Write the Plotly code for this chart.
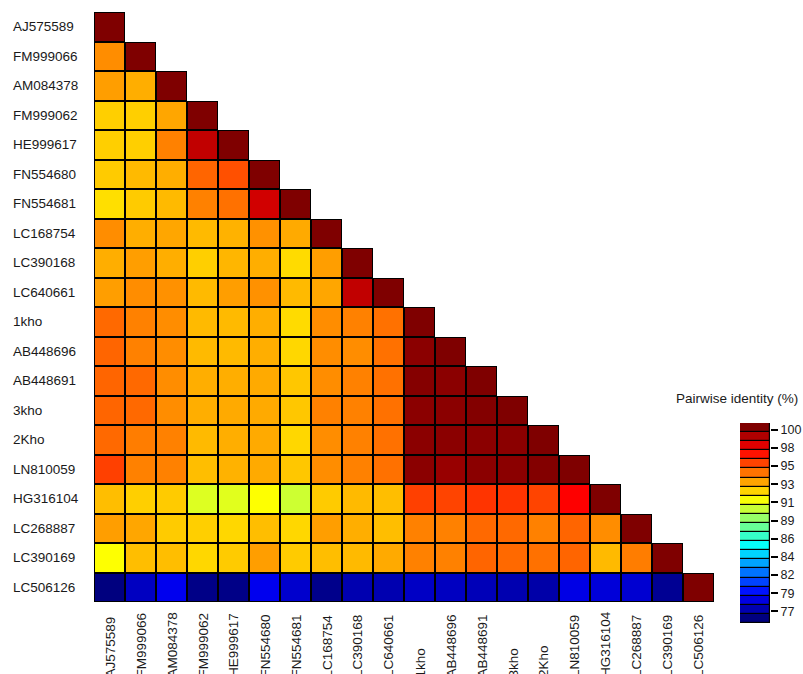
import plotly.graph_objects as go

# Sequence names, in matrix order (rows top to bottom, columns left to right)
sequences = ["AJ575589", "FM999066", "AM084378", "FM999062", "HE999617", "FN554680",
             "FN554681", "LC168754", "LC390168", "LC640661", "1kho", "AB448696",
             "AB448691", "3kho", "2Kho", "LN810059", "HG316104", "LC268887",
             "LC390169", "LC506126"]

# Pairwise identity (%) of each sequence with every earlier sequence, ending with itself
row_AJ575589 = [100]
row_FM999066 = [93.4, 100]
row_AM084378 = [93.0, 92.6, 100]
row_FM999062 = [91.8, 91.8, 92.8, 100]
row_HE999617 = [91.8, 91.8, 93.7, 98.4, 100]
row_FN554680 = [91.9, 92.3, 92.6, 94.4, 94.9, 100]
row_FN554681 = [91.4, 91.9, 92.3, 93.7, 94.1, 98.0, 100]
row_LC168754 = [93.4, 92.6, 92.8, 92.3, 92.5, 93.3, 92.7, 100]
row_LC390168 = [92.6, 93.0, 92.6, 91.8, 92.4, 92.6, 91.5, 93.0, 100]
row_LC640661 = [93.0, 93.4, 93.3, 92.3, 93.0, 93.3, 92.3, 92.8, 98.4, 100]
row_1kho = [94.3, 93.7, 93.4, 92.3, 92.3, 92.6, 91.5, 93.4, 93.7, 94.1, 100]
row_AB448696 = [94.4, 93.7, 93.4, 92.3, 92.3, 92.6, 91.6, 93.4, 93.4, 94.1, 99.7, 100]
row_AB448691 = [94.4, 94.3, 93.4, 92.6, 92.6, 92.7, 92.0, 93.4, 93.7, 94.1, 99.85, 99.7, 100]
row_3kho = [94.4, 94.3, 93.4, 92.6, 92.7, 92.7, 92.0, 93.7, 93.7, 94.1, 99.7, 99.7, 99.9, 100]
row_2Kho = [94.3, 93.8, 93.7, 92.3, 92.6, 92.7, 91.6, 93.4, 93.7, 94.1, 99.7, 99.7, 99.7, 99.7, 100]
row_LN810059 = [95.3, 93.7, 93.7, 92.2, 92.5, 92.7, 92.0, 93.4, 93.7, 94.1, 99.7, 99.4, 99.7, 99.7,
                99.9, 100]
row_HG316104 = [92.2, 91.8, 91.9, 89.8, 89.9, 90.6, 89.4, 91.9, 92.3, 92.2, 95.3, 95.2, 95.6, 95.6,
                95.2, 96.9, 100]
row_LC268887 = [93.0, 92.8, 91.9, 91.8, 91.6, 92.2, 91.6, 93.0, 92.6, 92.2, 93.7, 93.7, 94.3, 94.3,
                93.7, 94.4, 93.4, 100]
row_LC390169 = [90.6, 92.2, 92.2, 91.6, 91.9, 93.0, 91.9, 92.2, 92.3, 92.7, 93.7, 93.7, 94.4, 94.3,
                94.1, 94.4, 92.3, 93.8, 100]
row_LC506126 = [75.0, 76.6, 77.7, 75.2, 75.2, 77.7, 76.9, 75.3, 76.2, 76.2, 76.7, 76.6, 76.4, 76.2,
                76.0, 77.5, 77.2, 77.0, 75.5, 100]

rows = [row_AJ575589, row_FM999066, row_AM084378, row_FM999062, row_HE999617, row_FN554680,
        row_FN554681, row_LC168754, row_LC390168, row_LC640661, row_1kho, row_AB448696,
        row_AB448691, row_3kho, row_2Kho, row_LN810059, row_HG316104, row_LC268887,
        row_LC390169, row_LC506126]

# Colour key labels
legend_labels = ["77", "79", "82", "84", "86", "89", "91", "93", "95", "98", "100"]
legend_title = "Pairwise identity (%)"

# ---------------------------------------------------------------------------
W, H = 803, 674
n = len(sequences)
idx = list(range(n))

z = [[rows[i][j] if j <= i else None for j in idx] for i in idx]
mask = [[1 if j <= i else None for j in idx] for i in idx]

jet = ["#00007F", "#0000FF", "#007FFF", "#00FFFF", "#7FFF7F",
       "#FFFF00", "#FF7F00", "#FF0000", "#7F0000"]
jet_scale = [[k / (len(jet) - 1), c] for k, c in enumerate(jet)]

n_bands = 22
band_idx = list(range(n_bands))

fig = go.Figure()

# black underlay gives the cell outlines
fig.add_trace(go.Heatmap(x=idx, y=idx, z=mask, colorscale=[[0, "black"], [1, "black"]],
                         showscale=False, hoverinfo="skip", xaxis="x", yaxis="y"))
fig.add_trace(go.Heatmap(x=idx, y=idx, z=z, colorscale=jet_scale, zmin=75, zmax=100,
                         xgap=2, ygap=2, showscale=False,
                         customdata=[[sequences[i] for j in idx] for i in idx],
                         hovertemplate="%{customdata}: %{z}%<extra></extra>",
                         xaxis="x", yaxis="y"))

# colour key
fig.add_trace(go.Heatmap(x=[0], y=band_idx, z=[[1] for _ in band_idx],
                         colorscale=[[0, "black"], [1, "black"]], showscale=False,
                         hoverinfo="skip", xaxis="x2", yaxis="y2"))
fig.add_trace(go.Heatmap(x=[0], y=band_idx, z=[[b] for b in band_idx],
                         colorscale=jet_scale, zmin=0, zmax=n_bands - 1, ygap=1.2, xgap=1.2,
                         showscale=False, hoverinfo="skip", xaxis="x2", yaxis="y2"))

label_font = dict(family="Liberation Sans, Arial, sans-serif", size=13.5, color="#1a1a1a")

annotations = []
for i, name in enumerate(sequences):
    annotations.append(dict(x=11 / W, xref="paper", y=i, yref="y", text=name,
                            showarrow=False, xanchor="left", yanchor="middle",
                            font=label_font))
    annotations.append(dict(x=i, xref="x", y=-5.5 / H, yref="paper", text=name,
                            showarrow=False, xanchor="center", yanchor="bottom",
                            textangle=-90, font=label_font))
annotations.append(dict(x=674 / W, xref="paper", y=1 - 398 / H, yref="paper",
                        text=legend_title, showarrow=False, xanchor="left",
                        yanchor="middle", font=label_font))

fig.update_layout(
    width=W, height=H,
    margin=dict(l=0, r=0, t=0, b=0),
    paper_bgcolor="white", plot_bgcolor="white",
    xaxis=dict(domain=[94 / W, 714 / W], range=[-0.5, n - 0.5], showgrid=False,
               zeroline=False, showticklabels=False, ticks=""),
    yaxis=dict(domain=[1 - 602 / H, 1 - 12 / H], range=[n - 0.5, -0.5], showgrid=False,
               zeroline=False, showticklabels=False, ticks=""),
    xaxis2=dict(domain=[740 / W, 770 / W], range=[-0.5, 0.5], showgrid=False,
                zeroline=False, showticklabels=False, ticks="", anchor="y2"),
    yaxis2=dict(domain=[1 - 623 / H, 1 - 423 / H], range=[-0.5, n_bands - 0.5],
                anchor="x2", side="right", showgrid=False, zeroline=False,
                tickvals=[0.77 + 2 * k for k in range(len(legend_labels))],
                ticktext=legend_labels, ticks="outside", ticklen=7, tickwidth=2,
                tickcolor="black", tickfont=dict(family="Liberation Sans, Arial, sans-serif",
                                                 size=12.5, color="#1a1a1a")),
    annotations=annotations,
    showlegend=False,
)

fig.write_html("out.html")
